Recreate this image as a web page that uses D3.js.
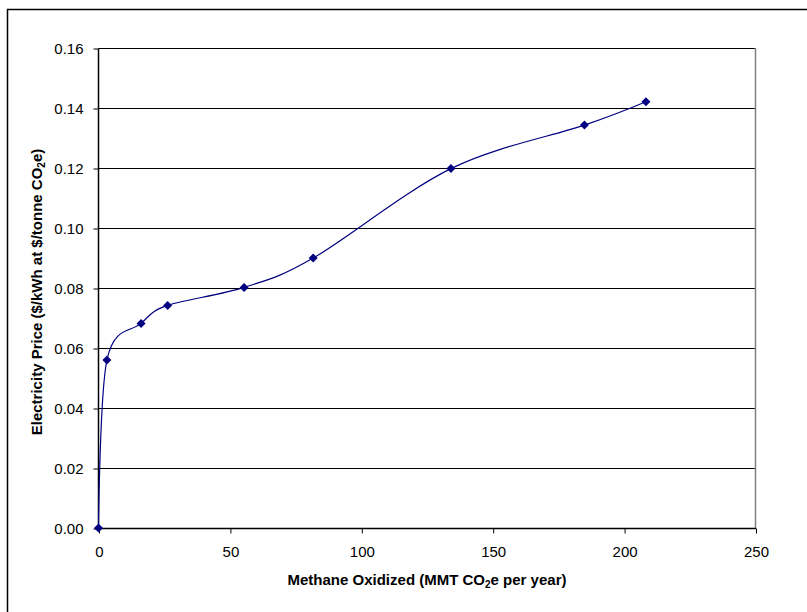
<!DOCTYPE html>
<html>
<head>
<meta charset="utf-8">
<script src="https://cdn.jsdelivr.net/npm/d3@7"></script>
<style>
  body { margin: 0; background: #fff; }
  svg { display: block; font-family: "Liberation Sans", Arial, sans-serif; }
</style>
</head>
<body>
<svg id="chart" width="807" height="612"></svg>
<script>
const methaneOxidized = [0, 3.2, 16.2, 26.3, 55.4, 81.7, 134.1, 184.9, 208.3];
const electricityPrice = [0, 0.0560, 0.0682, 0.0742, 0.0802, 0.0900, 0.1198, 0.1343, 0.1421];
const xTicks = [0, 50, 100, 150, 200, 250];
const yTicks = [0, 0.02, 0.04, 0.06, 0.08, 0.10, 0.12, 0.14, 0.16];

(function () {
const svg = d3.select("#chart");
const pLeft = 98.5, pRight = 755.5, pTop = 48, pBottom = 528;

const x = d3.scaleLinear().domain([0, 250]).range([pLeft, pRight]);
const y = d3.scaleLinear().domain([0, 0.16]).range([pBottom, pTop]);

// outer frame
svg.append("rect").attr("x", 7.5).attr("y", 9.5).attr("width", 820).attr("height", 620)
  .attr("fill", "none").attr("stroke", "#000").attr("stroke-width", 1.5);

// gridlines
svg.append("g").selectAll("line").data(yTicks.filter(d => d > 0)).join("line")
  .attr("x1", pLeft).attr("x2", pRight)
  .attr("y1", d => Math.round(y(d)) + 0.5).attr("y2", d => Math.round(y(d)) + 0.5)
  .attr("stroke", "#000").attr("stroke-width", 1);

// right border gray
svg.append("line").attr("x1", pRight).attr("x2", pRight).attr("y1", pTop).attr("y2", pBottom)
  .attr("stroke", "#808080").attr("stroke-width", 1.5);

// axes
const yAxis = d3.axisLeft(y).tickValues(yTicks).tickFormat(d3.format(".2f")).tickSize(5).tickPadding(10);
const gy = svg.append("g").attr("transform", `translate(${pLeft},0.5)`).call(yAxis);
const xAxis = d3.axisBottom(x).tickValues(xTicks).tickFormat(d3.format("d")).tickSize(5).tickPadding(13);
const gx = svg.append("g").attr("transform", `translate(0.5,${pBottom + 0.5})`).call(xAxis);
[gx, gy].forEach(g => {
  g.selectAll("text").attr("font-size", 15).attr("fill", "#000").attr("font-family", "Liberation Sans, Arial, sans-serif");
  g.selectAll("line").attr("stroke", "#000");
  g.select(".domain").attr("stroke", "#000").attr("stroke-width", 1.5);
});
gx.selectAll("text").attr("dy", "0.71em");
gx.select(".domain").attr("d", `M${pLeft},0H${pRight}`);
gy.select(".domain").attr("d", `M0,${pTop}V${pBottom}`);

// line
const pts = methaneOxidized.map((v, i) => [v, electricityPrice[i]]);
const line = d3.line().x(d => x(d[0])).y(d => y(d[1])).curve(d3.curveCatmullRom.alpha(0));
svg.append("path").datum(pts).attr("d", line).attr("fill", "none")
  .attr("stroke", "#000080").attr("stroke-width", 1.2);

// markers
svg.append("g").selectAll("path").data(pts).join("path")
  .attr("transform", d => `translate(${x(d[0])},${y(d[1])})`)
  .attr("d", "M0,-4.5L4.5,0L0,4.5L-4.5,0Z")
  .attr("fill", "#000080");

// axis titles
svg.append("text").attr("x", (pLeft + pRight) / 2).attr("y", 585)
  .attr("text-anchor", "middle").attr("font-size", 15).attr("font-weight", "bold")
  .html('Methane Oxidized (MMT CO<tspan font-size="10" dy="3">2</tspan><tspan dy="-3">e per year)</tspan>');

svg.append("text").attr("transform", `translate(42,${(pTop + pBottom) / 2 + 4}) rotate(-90)`)
  .attr("text-anchor", "middle").attr("font-size", 15).attr("font-weight", "bold")
  .html('Electricity Price ($/kWh at $/tonne CO<tspan font-size="10" dy="3">2</tspan><tspan dy="-3">e)</tspan>');
})();
</script>
</body>
</html>
